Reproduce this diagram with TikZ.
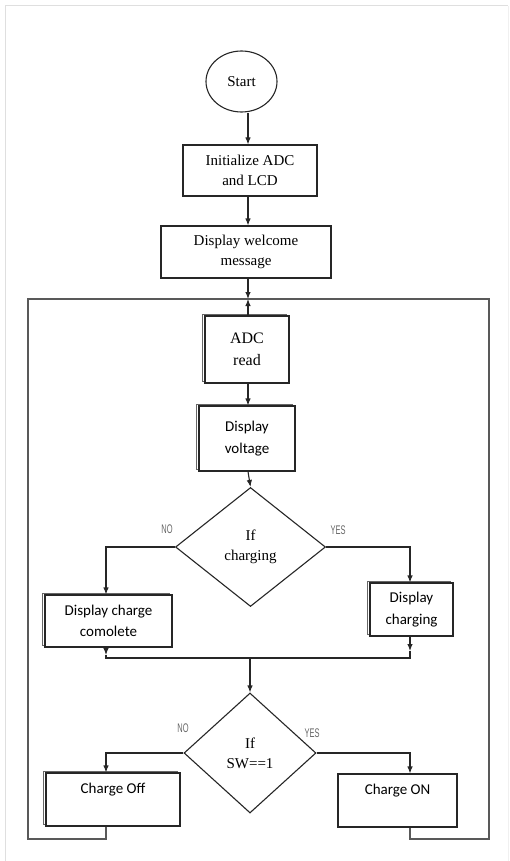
\documentclass[tikz,border=0pt]{standalone}
\usepackage{fontspec}
\setmainfont{Liberation Serif}
\newfontfamily\calfont{Carlito}
\newfontfamily\lblfont{Liberation Sans}
\usetikzlibrary{arrows.meta,shapes.geometric}
\tikzset{
  ln/.style={draw=black!85, line width=1.1pt},
  loopln/.style={draw=black!65, line width=1.4pt},
  arr/.style={ln, -{Latex[length=7pt,width=5.5pt]}},
  box/.style={rectangle, draw=black!85, line width=1.1pt, fill=white, align=center,
    inner sep=2pt, font=\fontsize{15}{20}\selectfont},
  sbox/.style={box, font=\calfont\fontsize{15}{21.5}\selectfont},
  shadowed/.style={preaction={draw=black!60, line width=0.7pt,
    transform canvas={xshift=-3pt,yshift=2pt}}},
  dec/.style={diamond, draw=black!85, line width=1.1pt, fill=white, align=center,
    inner sep=0pt, aspect=1.25, font=\fontsize{15}{20}\selectfont},
  lbl/.style={text=black!60, font=\lblfont\fontsize{12.5}{12.5}\selectfont, inner sep=0pt}
}
\begin{document}
\begin{tikzpicture}[x=1pt,y=-1pt]
\useasboundingbox (0,0) rectangle (509,861);
\draw[gray!25, line width=1pt] (5,861) -- (5,6) -- (508,6);
\draw[gray!12, line width=1pt] (508,6) -- (508,861);

% spine and branch coordinates
\coordinate (sp) at (248,0);
\coordinate (lx) at (106,0);
\coordinate (rx) at (410,0);
\coordinate (j) at (248,299);
\coordinate (m) at (250,658);
\coordinate (ca) at (106,655);
\coordinate (cb) at (410,651);
\coordinate (lb) at (28,839);
\coordinate (rb) at (489,839);
\coordinate (lt) at (28,299);
\coordinate (rt) at (489,299);

% nodes
\node[ellipse, draw=black!85, line width=1.1pt, minimum width=71pt, minimum height=61pt,
  inner sep=0pt, font=\fontsize{15}{20}\selectfont] (start) at (241.5,81.5) {Start};
\node[box, minimum width=134pt, minimum height=51pt] (init) at (250,170.5) {Initialize ADC\\and LCD};
\node[box, minimum width=170pt, minimum height=52pt] (welc) at (246,252) {Display welcome\\message};
\node[box, shadowed, minimum width=84pt, minimum height=67pt, font=\fontsize{16}{22}\selectfont] (adc) at (247,349.5) {ADC\\read};
\node[sbox, shadowed, minimum width=96pt, minimum height=65pt] (volt) at (247,438.5) {Display\\voltage};
\node[dec, minimum width=150pt, minimum height=119pt] (d1) at (250.5,547) {If\\charging};
\node[sbox, shadowed, minimum width=127pt, minimum height=52pt] (cc) at (108.5,621) {Display charge\\comolete};
\node[sbox, shadowed, minimum width=83pt, minimum height=53pt] (chg) at (411.5,609.5) {Display\\charging};
\node[dec, minimum width=132pt, minimum height=120pt] (d2) at (250,753) {If\\SW==1};
\node[sbox, shadowed, minimum width=134pt, minimum height=53pt] (off) at (113,799.5) {Charge Off\\\mbox{}};
\node[sbox, minimum width=119pt, minimum height=53pt] (on) at (397.5,800.5) {Charge ON\\\mbox{}};

% labels
\node[lbl] (no1) at (167,529) {\scalebox{0.6}[1]{NO}};
\node[lbl] (yes1) at (338,530) {\scalebox{0.6}[1]{YES}};
\node[lbl] (no2) at (183,728) {\scalebox{0.6}[1]{NO}};
\node[lbl] (yes2) at (312,733) {\scalebox{0.6}[1]{YES}};

% main flow
\draw[arr] (start.south -| sp) -- (init.north -| sp);
\draw[arr] (init.south -| sp) -- (welc.north -| sp);
\draw[arr] (welc.south -| sp) -- (j);
\draw[arr] (adc.north -| sp) -- (j);
\draw[arr] (adc.south -| sp) -- (volt.north -| sp);
\draw[arr] (volt.south -| sp) -- (d1.north);

% decision 1
\draw[arr] (d1.west) -- (lx |- d1.west) -- (lx |- cc.north);
\draw[arr] (d1.east) -- (rx |- d1.east) -- (rx |- chg.north);

% merge
\draw[ln] (ca) -- (lx |- m) -- (rx |- m) -- (cb);
\draw[arr] (lx |- cc.south) -- (ca);
\draw[arr] (rx |- chg.south) -- (cb);
\draw[arr] (m) -- (d2.north);

% decision 2
\draw[arr] (d2.west) -- (lx |- d2.west) -- (lx |- off.north);
\draw[arr] (d2.east) -- (rx |- d2.east) -- (rx |- on.north);

% loop back
\draw[loopln] (lx |- off.south) -- (lx |- lb) -- (lb) -- (lt) -- (rt) -- (rb) -- (rx |- rb) -- (rx |- on.south);
\end{tikzpicture}
\end{document}
